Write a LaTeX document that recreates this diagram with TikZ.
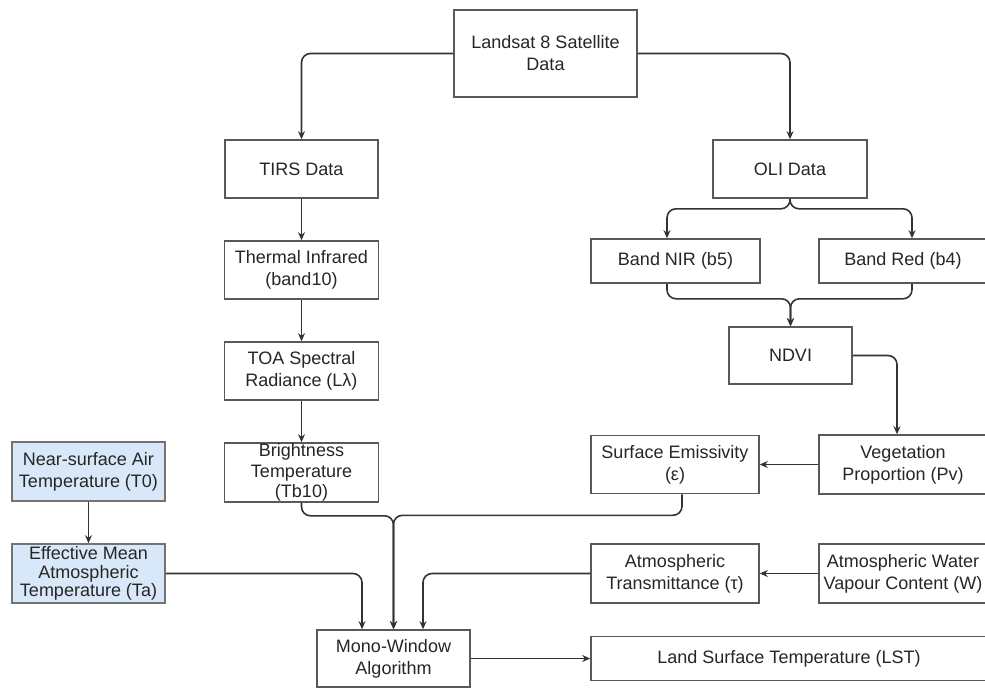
\documentclass[tikz,border=0pt]{standalone}
\usepackage{fontspec}
\setmainfont{Liberation Sans}
\usetikzlibrary{arrows.meta}
\definecolor{boxblue}{HTML}{D8E8F8}
\definecolor{edge}{HTML}{333333}
\tikzset{
  box/.style={draw=black!65, line width=1.6pt, fill=white, align=center, inner sep=0pt,
    font=\fontsize{18}{22}\selectfont, text=black!85},
  bluebox/.style={box, fill=boxblue, draw=black!55},
  conn/.style={draw=edge, line width=1.6pt, rounded corners=9pt},
  arr/.style={conn, -{Stealth[length=8pt,width=7pt]}},
}
\begin{document}
\begin{tikzpicture}[x=1pt,y=-1pt]
\useasboundingbox (0,0) rectangle (985,688);
\clip (0,0) rectangle (985,688);
\fill[white] (0,0) rectangle (985,688);
% nodes
\node[box, minimum width=183pt, minimum height=87pt] (land) at (545.5,53.5) {Landsat 8 Satellite\\Data};
\node[box, minimum width=153pt, minimum height=58pt] (tirs) at (301.5,169) {TIRS Data};
\node[box, minimum width=154pt, minimum height=58pt] (oli) at (790,169) {OLI Data};
\node[box, minimum width=154pt, minimum height=58pt] (thermal) at (301.5,270) {Thermal Infrared\\(band10)};
\node[box, minimum width=154pt, minimum height=58pt] (toa) at (301.5,371) {TOA Spectral\\Radiance (Lλ)};
\node[box, minimum width=154pt, minimum height=59pt, font=\fontsize{18}{20.5}\selectfont] (bright) at (301.5,472.5) {Brightness\\Temperature\\(Tb10)};
\node[bluebox, minimum width=153pt, minimum height=59pt] (nsat) at (88.5,471.5) {Near-surface Air\\Temperature (T0)};
\node[bluebox, minimum width=153pt, minimum height=59pt, font=\fontsize{18}{18.5}\selectfont] (emat) at (88.5,573.5) {Effective Mean\\Atmospheric\\Temperature (Ta)};
\node[box, minimum width=169pt, minimum height=44pt] (bnir) at (675.5,261) {Band NIR (b5)};
\node[box, minimum width=168pt, minimum height=44pt] (bred) at (903,261) {Band Red (b4)};
\node[box, minimum width=123pt, minimum height=57pt] (ndvi) at (790.5,355.5) {NDVI};
\node[box, minimum width=168pt, minimum height=59pt] (veg) at (903,464.5) {Vegetation\\Proportion (Pv)};
\node[box, minimum width=168pt, minimum height=58pt] (emis) at (675,464.5) {Surface Emissivity\\(ε)};
\node[box, minimum width=168pt, minimum height=59pt] (atr) at (675,573.5) {Atmospheric\\Transmittance (τ)};
\node[box, minimum width=168pt, minimum height=59pt] (awv) at (903,573.5) {Atmospheric Water\\Vapour Content (W)};
\node[box, minimum width=153pt, minimum height=57pt] (mono) at (393.5,658.5) {Mono-Window\\Algorithm};
\node[box, minimum width=396pt, minimum height=44pt] (lst) at (789,658.5) {Land Surface Temperature (LST)};
% connectors
\draw[arr] (land.west) -| (tirs.north);
\draw[arr] (land.east) -| (oli.north);
\draw[arr] (oli.south) -- ++(0,10) -| ([xshift=-8.5pt]bnir.north);
\draw[arr] (oli.south) -- ++(0,10) -| ([xshift=9pt]bred.north);
\draw[arr] ([xshift=-8.5pt]bnir.south) -- ++(0,15) -| (ndvi.north);
\draw[arr] ([xshift=9pt]bred.south) -- ++(0,15) -| (ndvi.north);
\draw[arr] (ndvi.east) -| ([xshift=-6pt]veg.north);
\draw[arr] (veg.west) -- (emis.east);
\draw[arr] (tirs) -- (thermal);
\draw[arr] (thermal) -- (toa);
\draw[arr] (toa) -- (bright);
\draw[arr] (bright.south) -- ++(0,13) -| (mono.north);
\draw[arr] ([xshift=7pt]emis.south) -- ++(0,21) -| (mono.north);
\draw[arr] (nsat) -- (emat);
\draw[arr] (emat.east) -| ([xshift=-31.5pt]mono.north);
\draw[arr] (atr.west) -| ([xshift=29.5pt]mono.north);
\draw[arr] (awv.west) -- (atr.east);
\draw[arr] (mono.east) -- (lst.west);
\end{tikzpicture}
\end{document}
